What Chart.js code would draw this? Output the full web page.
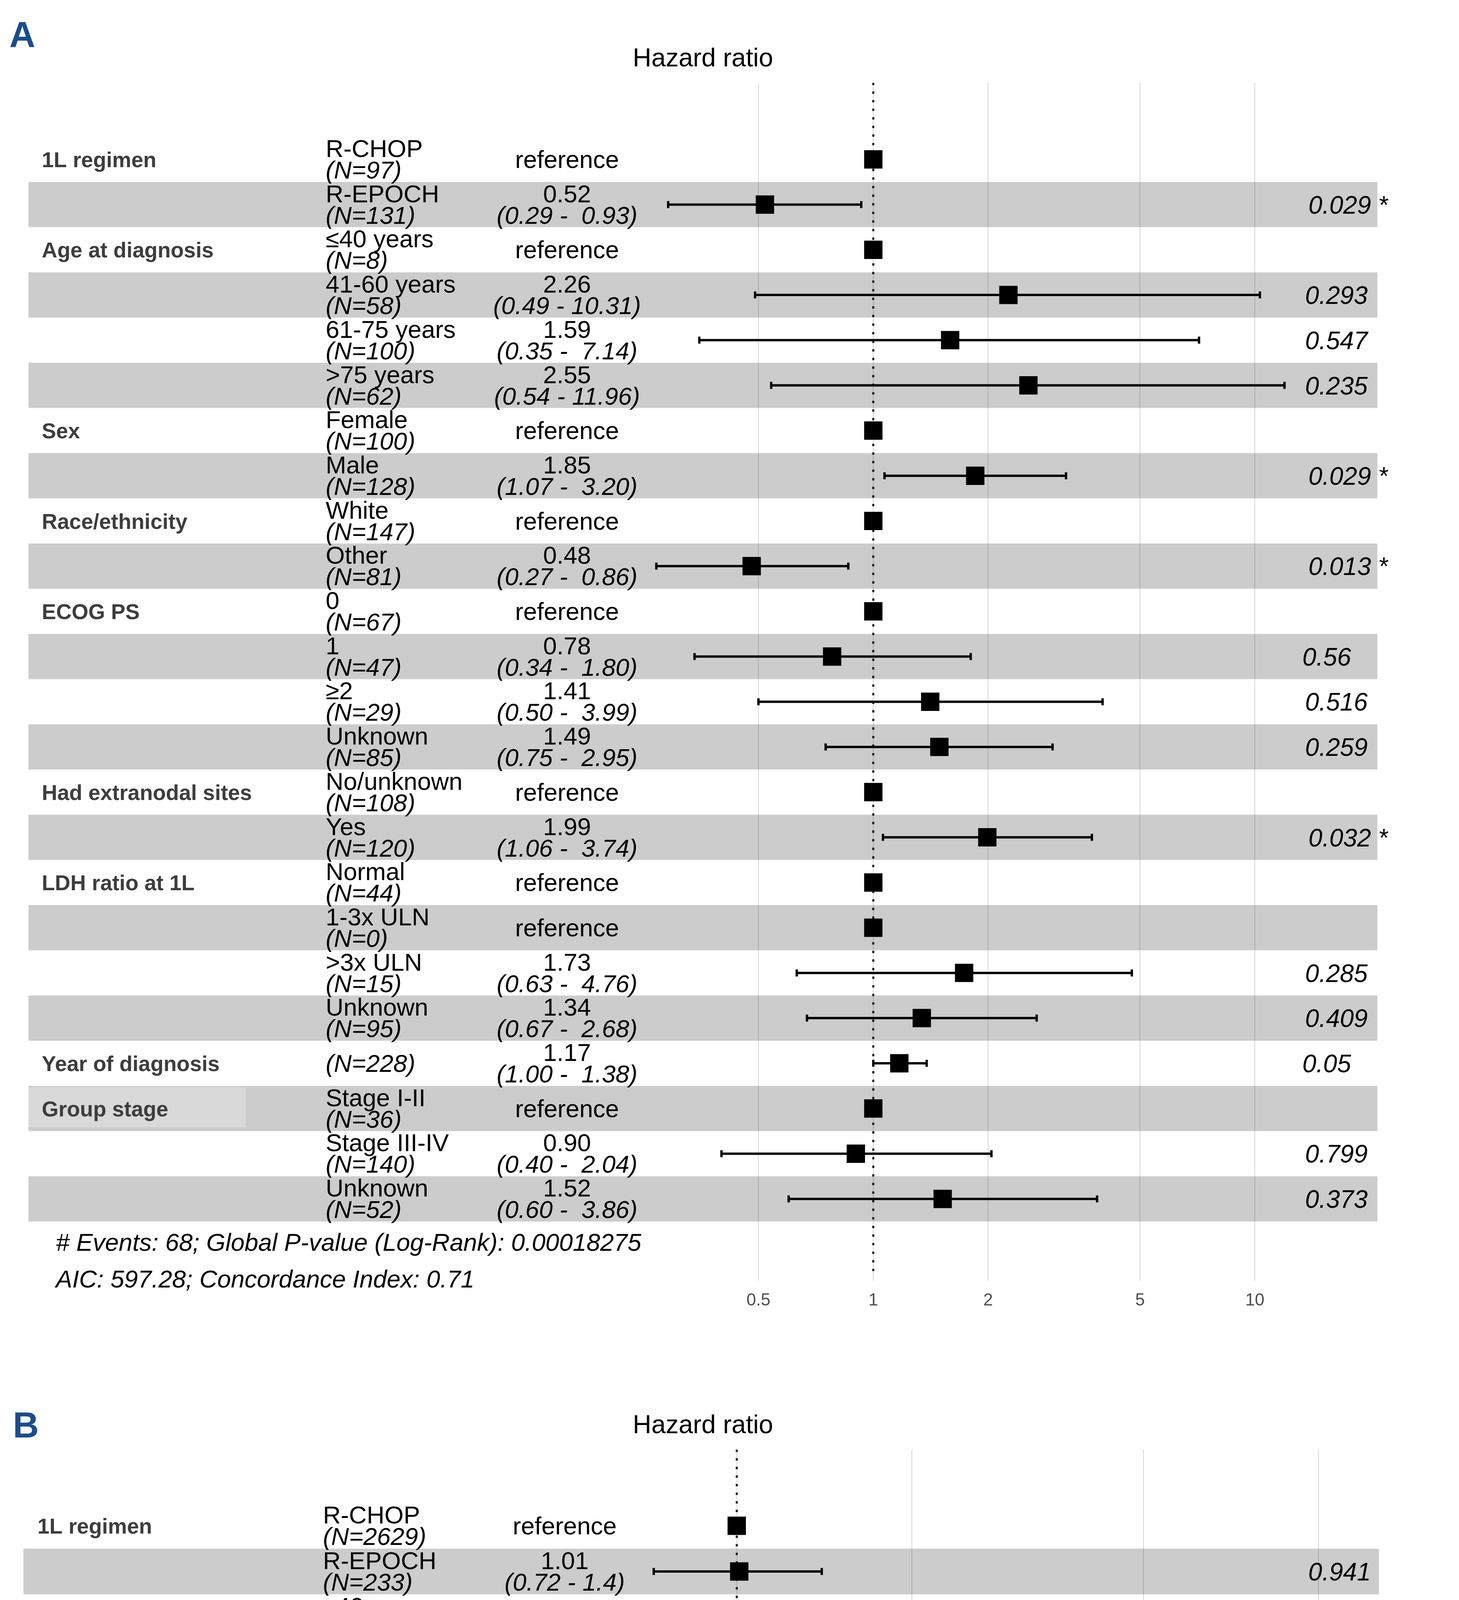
<!DOCTYPE html>
<html>
<head>
<meta charset="utf-8">
<script src="https://cdn.jsdelivr.net/npm/chart.js@4.4.1/dist/chart.umd.min.js"></script>
<style>
  html, body { margin: 0; padding: 0; background: #fff; }
  canvas { display: block; }
</style>
</head>
<body>
<canvas id="panelA" width="3736" height="3499"></canvas>
<canvas id="panelB" width="3736" height="3385"></canvas>
<script>
const FONT = '"Liberation Sans", Arial, Helvetica, sans-serif';

// variable names and the row where each group starts (same for both panels)
const varLabels = ['1L regimen', 'Age at diagnosis', 'Sex', 'Race/ethnicity', 'ECOG PS',
  'Had extranodal sites', 'LDH ratio at 1L', 'Year of diagnosis', 'Group stage'];
const varRows = [1, 3, 7, 9, 11, 15, 17, 21, 22];

const levels = ['R-CHOP', 'R-EPOCH', '≤40 years', '41-60 years', '61-75 years', '>75 years',
  'Female', 'Male', 'White', 'Other', '0', '1', '≥2', 'Unknown', 'No/unknown', 'Yes',
  'Normal', '1-3x ULN', '>3x ULN', 'Unknown', '', 'Stage I-II', 'Stage III-IV', 'Unknown'];

// Panel A
const aN = [97, 131, 8, 58, 100, 62, 100, 128, 147, 81, 67, 47, 29, 85, 108, 120, 44, 0, 15, 95, 228, 36, 140, 52];
const aHR = [null, 0.52, null, 2.26, 1.59, 2.55, null, 1.85, null, 0.48, null, 0.78, 1.41, 1.49, null, 1.99, null, null, 1.73, 1.34, 1.17, null, 0.90, 1.52];
const aLow = [null, 0.29, null, 0.49, 0.35, 0.54, null, 1.07, null, 0.27, null, 0.34, 0.50, 0.75, null, 1.06, null, null, 0.63, 0.67, 1.00, null, 0.40, 0.60];
const aHigh = [null, 0.93, null, 10.31, 7.14, 11.96, null, 3.20, null, 0.86, null, 1.80, 3.99, 2.95, null, 3.74, null, null, 4.76, 2.68, 1.38, null, 2.04, 3.86];
const aP = ['', '0.029 *', '', '0.293', '0.547', '0.235', '', '0.029 *', '', '0.013 *', '', '0.56', '0.516', '0.259', '', '0.032 *', '', '', '0.285', '0.409', '0.05', '', '0.799', '0.373'];
const aTicks = [0.5, 1, 2, 5, 10];
const aFooter = ['# Events: 68; Global P-value (Log-Rank): 0.00018275', 'AIC: 597.28; Concordance Index: 0.71'];

// Panel B
const bN = [2629, 233, 158, 711, 1317, 676, 1208, 1654, 1876, 986, 796, 714, 256, 1096, 1308, 1554, 925, 0, 81, 1125, 2862, 869, 1504, 489];
const bHR = [null, 1.01, null, 1.90, 3.19, 4.58, null, 1.08, null, 0.97, null, 1.95, 2.70, 1.45, null, 0.98, null, null, 2.02, 1.36, 1.01, null, 1.67, 1.92];
const bLow = [null, 0.72, null, 0.99, 1.69, 2.40, null, 0.91, null, 0.81, null, 1.48, 1.94, 1.11, null, 0.83, null, null, 1.36, 1.12, 0.97, null, 1.35, 1.48];
const bHigh = [null, 1.4, null, 3.7, 6.0, 8.7, null, 1.3, null, 1.2, null, 2.6, 3.8, 1.9, null, 1.2, null, null, 3.0, 1.7, 1.1, null, 2.1, 2.5];
const bP = ['', '0.941', '', '0.053', '<0.001 ***', '<0.001 ***', '', '0.379', '', '0.779', '', '<0.001 ***', '<0.001 ***', '0.007 **', '', '0.794', '', '', '<0.001 ***', '0.002 **', '0.542', '', '<0.001 ***', '<0.001 ***'];
const bTicks = [1, 2, 5, 10];
const bFooter = ['# Events: 565; Global P-value (Log-Rank): 0.0000000000000000000000000000080047', 'AIC: 7645.04; Concordance Index: 0.68'];

function forestChart(id, d, lay) {
  const rows = d.n.map((_, i) => i + 1);
  const points = rows.map((r, i) => ({ x: d.hr[i] === null ? 1 : d.hr[i], y: r }));

  const forest = {
    id: 'forest',
    beforeDraw(chart) {
      const ctx = chart.ctx;
      const y = chart.scales.y;
      ctx.save();
      ctx.fillStyle = '#cccccc';
      rows.forEach(r => {
        if (r % 2 === 0) {
          const t = y.getPixelForValue(r - 0.5);
          const b = y.getPixelForValue(r + 0.5);
          ctx.fillRect(lay.stripeL, t, lay.stripeR - lay.stripeL, b - t);
        }
      });
      // lighter box behind the last group label
      const gr = varRows[varRows.length - 1];
      const gt = y.getPixelForValue(gr - 0.5);
      const gb = y.getPixelForValue(gr + 0.5);
      ctx.fillStyle = '#d9d9d9';
      ctx.fillRect(lay.stripeL, gt + 4, 556, gb - gt - 14);
      ctx.restore();
    },
    beforeDatasetsDraw(chart) {
      const ctx = chart.ctx;
      const x = chart.scales.x, y = chart.scales.y;
      const area = chart.chartArea;
      ctx.save();
      // reference line at HR = 1
      ctx.strokeStyle = '#000';
      ctx.lineWidth = 5;
      ctx.setLineDash([6, 16]);
      ctx.beginPath();
      ctx.moveTo(x.getPixelForValue(1), area.top);
      ctx.lineTo(x.getPixelForValue(1), area.bottom);
      ctx.stroke();
      ctx.setLineDash([]);
      // confidence intervals
      rows.forEach((r, i) => {
        if (d.hr[i] === null) return;
        const yc = y.getPixelForValue(r);
        const x0 = x.getPixelForValue(d.low[i]);
        const x1 = x.getPixelForValue(d.high[i]);
        ctx.lineWidth = 6;
        ctx.beginPath();
        ctx.moveTo(x0, yc); ctx.lineTo(x1, yc);
        ctx.moveTo(x0, yc - 9); ctx.lineTo(x0, yc + 9);
        ctx.moveTo(x1, yc - 9); ctx.lineTo(x1, yc + 9);
        ctx.stroke();
      });
      ctx.restore();
    },
    afterDraw(chart) {
      const ctx = chart.ctx;
      const y = chart.scales.y;
      ctx.save();
      ctx.textBaseline = 'alphabetic';

      // panel letter and title
      ctx.fillStyle = '#1b4d89';
      ctx.font = 'bold 92px ' + FONT;
      ctx.textAlign = 'left';
      ctx.fillText(lay.letter, lay.letterX, lay.letterY);
      ctx.fillStyle = '#000';
      ctx.font = '66px ' + FONT;
      ctx.textAlign = 'center';
      ctx.fillText('Hazard ratio', 1800, 170);

      // variable names
      ctx.fillStyle = '#3d3d3d';
      ctx.font = 'bold 55px ' + FONT;
      ctx.textAlign = 'left';
      varLabels.forEach((v, k) => {
        ctx.fillText(v, lay.varX, y.getPixelForValue(varRows[k]) + 20);
      });

      ctx.fillStyle = '#000';
      rows.forEach((r, i) => {
        const yc = y.getPixelForValue(r);
        // level + N
        ctx.textAlign = 'left';
        if (levels[i]) {
          ctx.font = '63px ' + FONT;
          ctx.fillText(levels[i], lay.levelX, yc - 6);
          ctx.font = 'italic 63px ' + FONT;
          ctx.fillText('(N=' + d.n[i] + ')', lay.levelX, yc + 49);
        } else {
          ctx.font = 'italic 63px ' + FONT;
          ctx.fillText('(N=' + d.n[i] + ')', lay.levelX, yc + 22);
        }
        // estimate
        ctx.textAlign = 'center';
        if (d.hr[i] === null) {
          ctx.font = '63px ' + FONT;
          ctx.fillText('reference', lay.estX, yc + 22);
        } else {
          ctx.font = '63px ' + FONT;
          ctx.fillText(d.hr[i].toFixed(2), lay.estX, yc - 6);
          ctx.font = 'italic 63px ' + FONT;
          ctx.fillText(d.ci(d.low[i], d.high[i]), lay.estX, yc + 49);
        }
        // p-value, ggplot hjust = -0.2
        if (d.p[i]) {
          ctx.textAlign = 'left';
          ctx.font = 'italic 64px ' + FONT;
          const w = ctx.measureText(d.p[i]).width;
          ctx.fillText(d.p[i], lay.pX + 0.2 * w, yc + 23);
        }
      });

      // footer
      ctx.textAlign = 'left';
      ctx.font = 'italic 63px ' + FONT;
      ctx.fillText(d.footer[0], lay.footX, lay.foot1Y);
      ctx.fillText(d.footer[1], lay.footX, lay.foot2Y);
      ctx.restore();
    }
  };

  return new Chart(document.getElementById(id), {
    type: 'scatter',
    data: {
      datasets: [{
        data: points,
        pointStyle: 'rect',
        pointRadius: 33.2,
        pointHoverRadius: 33.2,
        backgroundColor: '#000',
        borderWidth: 0
      }]
    },
    options: {
      responsive: false,
      animation: false,
      devicePixelRatio: 1,
      layout: { padding: { left: lay.left, right: lay.right, top: 212, bottom: lay.padBottom } },
      plugins: { legend: { display: false }, tooltip: { enabled: false } },
      scales: {
        x: {
          type: 'logarithmic',
          min: lay.xMin,
          max: lay.xMax,
          bounds: 'data',
          afterBuildTicks: s => { s.ticks = d.ticks.map(v => ({ value: v })); },
          afterFit: s => { s.height = 85; },
          ticks: {
            autoSkip: false,
            maxRotation: 0,
            padding: 24,
            color: '#4d4d4d',
            font: { family: FONT, size: 44 },
            callback: v => String(v)
          },
          grid: { color: 'rgba(0,0,0,0.16)', lineWidth: 2, tickLength: 12 },
          border: { display: false }
        },
        y: { type: 'linear', reverse: true, min: lay.yMin, max: 25.71, display: false }
      }
    },
    plugins: [forest]
  });
}

forestChart('panelA',
  { n: aN, hr: aHR, low: aLow, high: aHigh, p: aP, ticks: aTicks, footer: aFooter,
    ci: (lo, hi) => '(' + lo.toFixed(2) + ' - ' + hi.toFixed(2).padStart(5, ' ') + ')' },
  { letter: 'A', letterX: 24, letterY: 120, left: 1648, right: 380, padBottom: 147,
    xMin: 0.25, xMax: 14, yMin: -0.694, stripeL: 73, stripeR: 3527,
    varX: 107, levelX: 834, estX: 1452, pX: 3310, footX: 143, foot1Y: 3202, foot2Y: 3296 });

forestChart('panelB',
  { n: bN, hr: bHR, low: bLow, high: bHigh, p: bP, ticks: bTicks, footer: bFooter,
    ci: (lo, hi) => '(' + lo.toFixed(2) + ' - ' + hi.toFixed(1) + ')' },
  { letter: 'B', letterX: 33, letterY: 181, left: 1556, right: 298, padBottom: 2,
    xMin: 0.6, xMax: 11, yMin: -0.667, stripeL: 60, stripeR: 3531,
    varX: 96, levelX: 827, estX: 1446, pX: 3318, footX: 131, foot1Y: 3233, foot2Y: 3328 });
</script>
</body>
</html>
